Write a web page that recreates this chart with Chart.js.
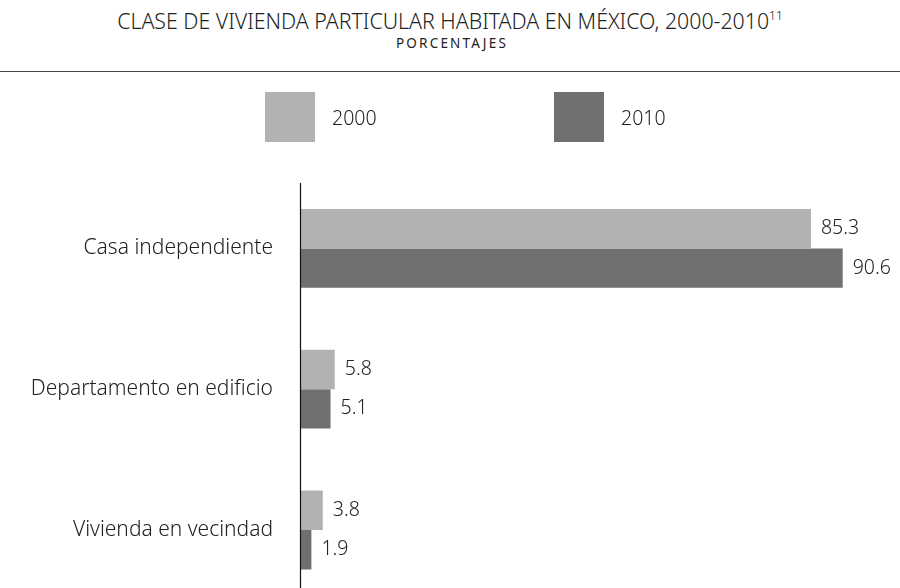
<!DOCTYPE html>
<html>
<head>
<meta charset="utf-8">
<script src="https://cdn.jsdelivr.net/npm/chart.js@4"></script>
<style>
  html, body { margin: 0; padding: 0; width: 900px; height: 588px; overflow: hidden; background: #fff; }
  body { position: relative; font-family: "Noto Sans", sans-serif; font-weight: 300; color: #222; }
  #title { position: absolute; top: 6px; left: 0; width: 900px; text-align: center; font-size: 21.3px; line-height: 30px; white-space: nowrap; }
  #title sup { font-size: 12px; vertical-align: 9px; line-height: 0; }
  #subtitle { position: absolute; top: 34px; left: 2px; width: 900px; text-align: center; font-size: 13.5px; font-weight: 400; line-height: 18px; letter-spacing: 2.2px; }
  #rule { position: absolute; top: 71px; left: 0; width: 900px; height: 0; border-top: 1px solid #444; }
  #legend { position: absolute; top: 92px; left: 0; width: 900px; height: 50px; }
  .item { position: absolute; top: 0; height: 50px; display: flex; align-items: center; font-size: 19.5px; }
  .box { width: 50px; height: 50px; margin-right: 17px; }
  #chart { position: absolute; top: 0; left: 0; }
</style>
</head>
<body>
<div id="title">CLASE DE VIVIENDA PARTICULAR HABITADA EN MÉXICO, 2000-2010<sup>11</sup></div>
<div id="subtitle">PORCENTAJES</div>
<div id="rule"></div>
<canvas id="chart" width="900" height="632"></canvas>
<div id="legend"></div>
<script>
// Categories and series (percent)
const categories = ['Casa independiente', 'Departamento en edificio', 'Vivienda en vecindad'];
const seriesNames = ['2000', '2010'];
const values2000 = [85.3, 5.8, 3.8];
const values2010 = [90.6, 5.1, 1.9];
const colors = ['#b2b2b2', '#707070'];

const fontFamily = '"Noto Sans", sans-serif';

// HTML legend built from the series
const legendLeft = [265, 554];
const legend = document.getElementById('legend');
seriesNames.forEach(function (name, i) {
  const item = document.createElement('div');
  item.className = 'item';
  item.style.left = legendLeft[i] + 'px';
  item.innerHTML = '<div class="box" style="background:' + colors[i] + '"></div>' + name;
  legend.appendChild(item);
});

// value labels to the right of each bar
const valueLabels = {
  id: 'valueLabels',
  afterDatasetsDraw(chart) {
    const ctx = chart.ctx;
    ctx.save();
    ctx.font = '300 19.5px ' + fontFamily;
    ctx.fillStyle = '#222';
    ctx.textBaseline = 'middle';
    ctx.textAlign = 'left';
    chart.data.datasets.forEach(function (ds, i) {
      chart.getDatasetMeta(i).data.forEach(function (bar, j) {
        ctx.fillText(ds.data[j].toFixed(1), bar.x + 10, bar.y);
      });
    });
    ctx.restore();
  }
};

// vertical axis line (starts a little below the chart area top)
const axisLine = {
  id: 'axisLine',
  afterDraw(chart) {
    const a = chart.chartArea;
    const ctx = chart.ctx;
    ctx.save();
    ctx.strokeStyle = '#111';
    ctx.lineWidth = 1.2;
    ctx.beginPath();
    ctx.moveTo(a.left + 0.5, a.top + 5);
    ctx.lineTo(a.left + 0.5, a.bottom);
    ctx.stroke();
    ctx.restore();
  }
};

// canvas is taller than the window so the last band runs off the bottom like the original
new Chart(document.getElementById('chart'), {
  type: 'bar',
  data: {
    labels: categories,
    datasets: [
      { label: seriesNames[0], data: values2000, backgroundColor: colors[0] },
      { label: seriesNames[1], data: values2010, backgroundColor: colors[1] }
    ]
  },
  options: {
    indexAxis: 'y',
    responsive: false,
    animation: false,
    layout: { padding: { top: 178, right: 1, bottom: 0, left: 0 } },
    datasets: { bar: { categoryPercentage: 0.56, barPercentage: 1 } },
    plugins: { legend: { display: false }, tooltip: { enabled: false } },
    scales: {
      x: { display: false, min: 0, max: 100 },
      y: {
        grid: { display: false },
        border: { display: false },
        afterFit(scale) { scale.width = 300; },
        ticks: {
          color: '#222',
          padding: 19,
          font: { family: fontFamily, size: 21, weight: '300' }
        }
      }
    }
  },
  plugins: [valueLabels, axisLine]
});
</script>
</body>
</html>
